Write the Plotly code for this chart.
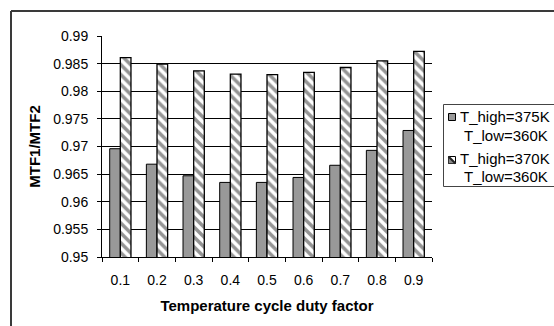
import plotly.graph_objects as go

categories = ["0.1", "0.2", "0.3", "0.4", "0.5", "0.6", "0.7", "0.8", "0.9"]
series1_lines = ["T_high=375K", "T_low=360K"]
series1 = [0.9696, 0.9668, 0.9647, 0.9635, 0.9635, 0.9644, 0.9666, 0.9693, 0.9729]
series2_lines = ["T_high=370K", "T_low=360K"]
series2 = [0.9861, 0.9849, 0.9837, 0.9831, 0.9830, 0.9834, 0.9843, 0.9855, 0.9872]
y_tickvals = [0.95, 0.955, 0.96, 0.965, 0.97, 0.975, 0.98, 0.985, 0.99]
y_ticktext = ["0.95", "0.955", "0.96", "0.965", "0.97", "0.975", "0.98", "0.985", "0.99"]

W, H = 554, 326
L, R, T, B = 102, 122, 36, 69
pw, ph = W - L - R, H - T - B

def px_x(x):
    return (x - L) / pw

def px_y(y):
    return (H - B - y) / ph

FONT = "Liberation Sans, Arial, sans-serif"
GREY = "#999999"

fig = go.Figure()
fig.add_trace(go.Bar(
    x=categories, y=series1, name=" ".join(series1_lines),
    marker=dict(color=GREY, line=dict(color="black", width=1)),
))
fig.add_trace(go.Bar(
    x=categories, y=series2, name=" ".join(series2_lines),
    marker=dict(color="white", line=dict(color="black", width=1.3),
                pattern=dict(shape="\\", fgcolor="#2a2a2a", bgcolor="white",
                             size=7, solidity=0.5)),
))

shapes = [
    # outer chart frame (left & top edges visible)
    dict(type="line", xref="paper", yref="paper",
         x0=px_x(11), x1=px_x(11), y0=px_y(11), y1=px_y(400),
         line=dict(color="#3a3a3a", width=2)),
    dict(type="line", xref="paper", yref="paper",
         x0=px_x(11), x1=px_x(700), y0=px_y(11), y1=px_y(11),
         line=dict(color="#3a3a3a", width=2)),
    # legend box
    dict(type="rect", xref="paper", yref="paper",
         x0=px_x(443.5), x1=px_x(600), y0=px_y(104.5), y1=px_y(186.5),
         line=dict(color="#444444", width=1), fillcolor="white", layer="above"),
    # legend symbol 1
    dict(type="rect", xref="paper", yref="paper",
         x0=px_x(448.5), x1=px_x(455.5), y0=px_y(113.5), y1=px_y(120.5),
         line=dict(color="black", width=1), fillcolor=GREY, layer="above"),
    # legend symbol 2
    dict(type="rect", xref="paper", yref="paper",
         x0=px_x(448.5), x1=px_x(455.5), y0=px_y(156.5), y1=px_y(163.5),
         line=dict(color="black", width=1), fillcolor="white", layer="above"),
    dict(type="path", xref="paper", yref="paper",
         path=(f"M {px_x(448.5)},{px_y(156.5)} L {px_x(455.5)},{px_y(163.5)} "
               f"L {px_x(448.5)},{px_y(163.5)} Z"),
         line=dict(color="#333333", width=1), fillcolor="#888888", layer="above"),
    dict(type="line", xref="paper", yref="paper",
         x0=px_x(448.5), x1=px_x(455.5), y0=px_y(156.5), y1=px_y(163.5),
         line=dict(color="#222222", width=2), layer="above"),
]

annotations = []
for lines, (y1, y2) in [(series1_lines, (116.7, 135)), (series2_lines, (158, 176))]:
    annotations.append(dict(xref="paper", yref="paper", x=px_x(458), y=px_y(y1),
                            text=lines[0], showarrow=False, xanchor="left", yanchor="middle",
                            font=dict(family=FONT, size=15, color="black")))
    annotations.append(dict(xref="paper", yref="paper", x=px_x(462), y=px_y(y2),
                            text=lines[1], showarrow=False, xanchor="left", yanchor="middle",
                            font=dict(family=FONT, size=15, color="black")))

fig.update_layout(
    width=W, height=H,
    margin=dict(l=L, r=R, t=T, b=B, autoexpand=False),
    paper_bgcolor="white", plot_bgcolor="white",
    barmode="group", bargap=0.42, bargroupgap=0,
    font=dict(family=FONT, size=14, color="black"),
    showlegend=False,
    xaxis=dict(
        type="category",
        showline=True, linecolor="black", linewidth=1,
        ticks="outside", ticklen=4, tickcolor="black", tickson="boundaries",
        showgrid=False, ticklabelstandoff=10,
        tickfont=dict(family=FONT, size=14, color="black"),
        title=dict(text="<b>Temperature cycle duty factor</b>",
                   font=dict(family=FONT, size=15, color="black"), standoff=13),
    ),
    yaxis=dict(
        range=[0.95, 0.99], tickvals=y_tickvals, ticktext=y_ticktext,
        showline=True, linecolor="black", linewidth=1,
        ticks="outside", ticklen=4, tickcolor="black",
        showgrid=True, gridcolor="black", gridwidth=1, zeroline=False,
        ticklabelstandoff=6,
        tickfont=dict(family=FONT, size=14, color="black"),
        title=dict(text="<b>MTF1/MTF2</b>",
                   font=dict(family=FONT, size=15, color="black"), standoff=8),
    ),
    shapes=shapes,
    annotations=annotations,
)

fig.write_html("out.html")
